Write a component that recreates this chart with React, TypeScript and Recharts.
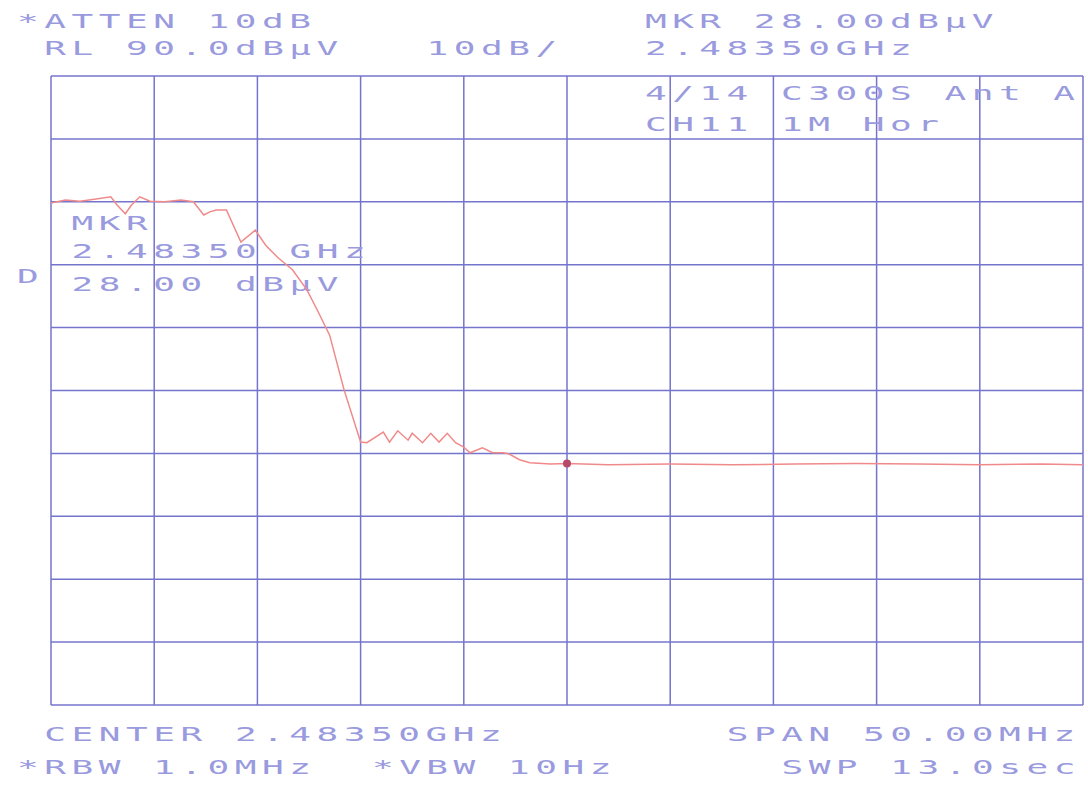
import { LineChart, Line, XAxis, YAxis, CartesianGrid, ReferenceDot, Customized } from "recharts";

// frequency offset from start of span (MHz), span = 50 MHz centred on 2.48350 GHz
const freqs = [
  0, 0.7, 1.4, 2.1, 2.9, 3.2, 3.6, 3.9, 4.3, 4.8, 5.5, 6.3, 6.9, 7.4, 7.7, 8.0, 8.5,
  9.2, 9.9, 10.4, 11.0, 11.7, 12.4, 12.9, 13.5, 14.2, 15.0, 15.3, 16.1, 16.4, 16.8,
  17.3, 17.5, 18.0, 18.4, 18.8, 19.2, 19.6, 20.0, 20.3, 20.9, 21.4, 21.9, 22.2, 22.7,
  23.2, 24.2, 25.0, 27.0, 30.0, 33.0, 36.0, 39.0, 42.0, 45.0, 48.0, 50.0,
];
// level (dBµV)
const levels = [
  69.8, 70.3, 70.1, 70.4, 70.8, 69.5, 68.1, 69.5, 70.8, 70.1, 70.0, 70.3, 70.0, 67.9, 68.4, 68.7, 68.7,
  63.6, 65.5, 63.1, 61.1, 59.2, 56.0, 52.8, 48.8, 40.1, 31.8, 31.7, 33.4, 31.8, 33.6,
  32.1, 33.2, 31.7, 33.2, 31.8, 33.2, 31.7, 31.0, 30.1, 30.9, 30.1, 30.1, 29.9, 29.0,
  28.5, 28.3, 28.4, 28.2, 28.3, 28.2, 28.3, 28.4, 28.3, 28.2, 28.3, 28.2,
];
const xTicks = [0, 5, 10, 15, 20, 25, 30, 35, 40, 45, 50];
const yTicks = [-10, 0, 10, 20, 30, 40, 50, 60, 70, 80, 90];
const markerFreq = 25;
const markerLevel = 28.4;

const data = freqs.map((f, i) => ({ f, level: levels[i] }));

const TEXT = "#9a9ade";

// instrument text sits on a character grid
function Txt({ col, y, children }: { col: number; y: number; children: string }) {
  return (
    <text
      transform={`translate(${17 + col * 27.3},${y}) scale(1.9,1)`}
      fontFamily="DejaVu Sans Mono"
      fontSize={19}
      letterSpacing={2.9}
      fill={TEXT}
      style={{ whiteSpace: "pre" }}
    >
      {children}
    </text>
  );
}

function Annotations() {
  return (
    <g>
      <Txt col={0} y={28}>*ATTEN 10dB</Txt>
      <Txt col={1} y={55}>RL 90.0dBµV</Txt>
      <Txt col={15} y={55}>10dB/</Txt>
      <Txt col={23} y={28}>MKR 28.00dBµV</Txt>
      <Txt col={23} y={55}>2.48350GHz</Txt>
      <Txt col={23} y={100}>4/14 C300S Ant A</Txt>
      <Txt col={23} y={131}>CH11 1M Hor</Txt>
      <Txt col={2} y={230}>MKR</Txt>
      <Txt col={2} y={258}>2.48350 GHz</Txt>
      <Txt col={2} y={291}>28.00 dBµV</Txt>
      <Txt col={0} y={283}>D</Txt>
      <Txt col={1} y={741}>CENTER 2.48350GHz</Txt>
      <Txt col={26} y={741}>SPAN 50.00MHz</Txt>
      <Txt col={0} y={774}>*RBW 1.0MHz</Txt>
      <Txt col={13} y={774}>*VBW 10Hz</Txt>
      <Txt col={28} y={774}>SWP 13.0sec</Txt>
    </g>
  );
}

export default function App() {
  return (
    <div style={{ position: "absolute", left: 0, top: 0, width: 1088, height: 787, background: "#fff" }}>
      <LineChart width={1088} height={787} data={data} margin={{ top: 76, right: 5, bottom: 82, left: 51 }}>
        <CartesianGrid stroke="#7474cc" strokeWidth={1.5} />
        <XAxis type="number" dataKey="f" domain={[0, 50]} ticks={xTicks} hide />
        <YAxis type="number" domain={[-10, 90]} ticks={yTicks} hide />
        <Line
          type="linear"
          dataKey="level"
          stroke="#f08a8a"
          strokeWidth={1.5}
          dot={false}
          isAnimationActive={false}
        />
        <ReferenceDot x={markerFreq} y={markerLevel} r={4} fill="#b84868" stroke="none" />
        <Customized component={Annotations} />
      </LineChart>
    </div>
  );
}
